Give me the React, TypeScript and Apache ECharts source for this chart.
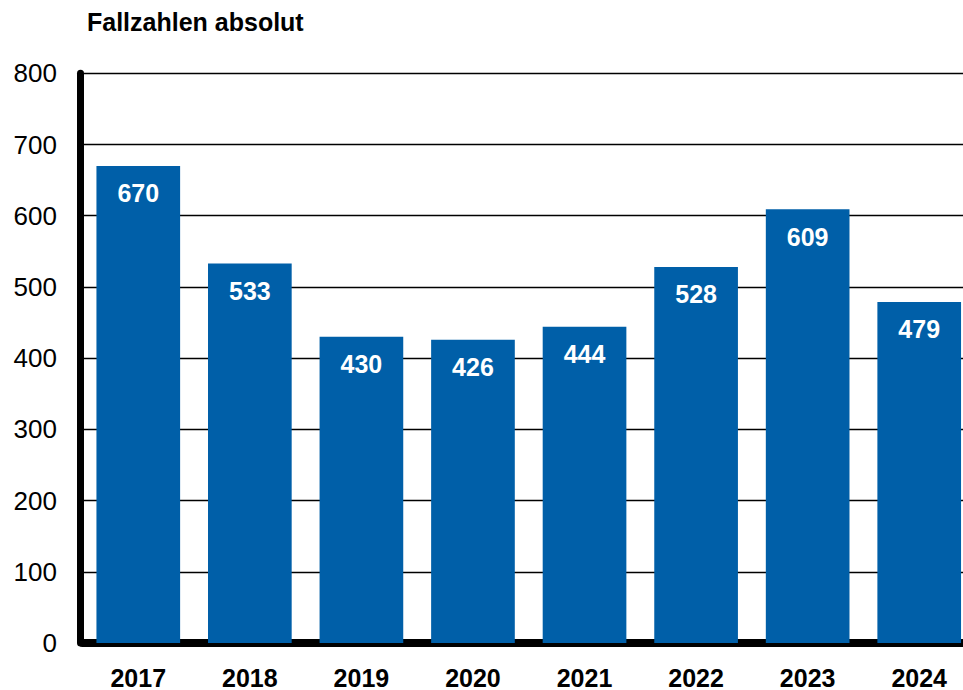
import React, { useEffect, useRef } from "react";
import * as echarts from "echarts";

const years = ["2017", "2018", "2019", "2020", "2021", "2022", "2023", "2024"];
const cases = [670, 533, 430, 426, 444, 528, 609, 479];
const yTicks = [0, 100, 200, 300, 400, 500, 600, 700, 800];
const titleText = "Fallzahlen absolut";

const FONT = "'Liberation Sans', Arial, sans-serif";

export default function App() {
  const ref = useRef<HTMLDivElement>(null);
  useEffect(() => {
    document.body.style.margin = "0";
    document.body.style.overflow = "hidden";
    const chart = echarts.init(ref.current!, null, { renderer: "svg" });
    chart.setOption({
      animation: false,
      title: {
        text: titleText,
        left: 82,
        top: 4,
        textStyle: { fontFamily: FONT, fontSize: 25, fontWeight: "bold", color: "#000" },
      },
      grid: { left: 82.5, right: 0, top: 73.3, bottom: 45.3, containLabel: false },
      xAxis: {
        type: "category",
        data: years,
        axisLine: { show: true, lineStyle: { color: "#000", width: 8 } },
        axisTick: { show: false },
        axisLabel: {
          fontFamily: FONT,
          fontSize: 25,
          fontWeight: "bold",
          color: "#000",
          margin: 22,
        },
      },
      yAxis: {
        type: "value",
        min: yTicks[0],
        max: yTicks[yTicks.length - 1],
        interval: 100,
        offset: 2.5,
        axisLine: { show: true, lineStyle: { color: "#000", width: 7 } },
        axisTick: { show: false },
        splitLine: { show: true, lineStyle: { color: "#000", width: 1.3 } },
        axisLabel: {
          fontFamily: FONT,
          fontSize: 26,
          color: "#000",
          margin: 23,
        },
      },
      series: [
        {
          type: "bar",
          data: cases,
          barCategoryGap: "25%",
          itemStyle: { color: "#005FA8" },
          label: {
            show: true,
            position: "insideTop",
            distance: 15,
            fontFamily: FONT,
            fontSize: 25,
            fontWeight: "bold",
            color: "#fff",
          },
        },
      ],
    });
    return () => chart.dispose();
  }, []);
  return (
    <div style={{ width: 963, height: 690, overflow: "hidden" }}>
      <div ref={ref} style={{ width: 975, height: 690 }} />
    </div>
  );
}
